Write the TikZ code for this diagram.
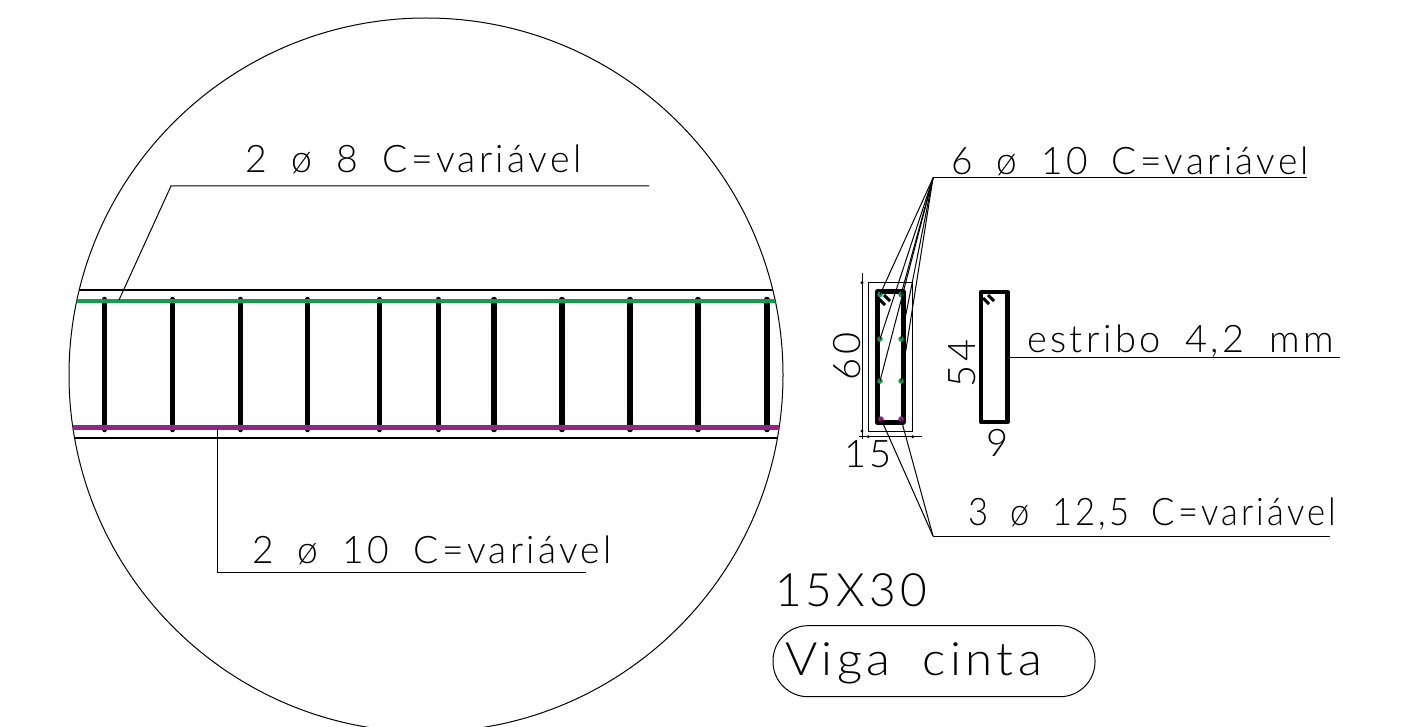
\documentclass[tikz,border=0pt]{standalone}
\usepackage{fontspec}
\setmainfont{Lato}[UprightFont=* Light,LetterSpace=9,WordSpace=1.8]
\definecolor{rebargreen}{RGB}{22,155,78}
\definecolor{rebarpurple}{RGB}{145,38,135}
\tikzset{
  thinline/.style={draw=black,line width=1pt},
  beamline/.style={draw=black,line width=1.2pt},
  stirrup/.style={draw=black,line width=5.5pt,line cap=round},
  tie/.style={draw=black,line width=4.5pt,line join=round},
  hook/.style={draw=black,line width=3pt},
  greenbar/.style={draw=rebargreen,line width=4pt},
  purplebar/.style={draw=rebarpurple,line width=4.5pt},
  label/.style={anchor=base west,inner sep=0pt,outer sep=0pt,font=\fontsize{38}{38}\selectfont},
  biglabel/.style={anchor=base west,inner sep=0pt,outer sep=0pt,font=\fontsize{46}{46}\selectfont},
  gdot/.style={circle,fill=rebargreen,inner sep=0pt,minimum size=5.5pt},
  pdot/.style={circle,fill=rebarpurple,inner sep=0pt,minimum size=5.5pt},
  kdot/.style={circle,fill=black,inner sep=0pt,minimum size=3.2pt},
}
\begin{document}
\begin{tikzpicture}[x=1pt,y=-1pt]
\useasboundingbox (0,0) rectangle (1421,727);
% detail circle
\begin{scope}
\clip (0,0) rectangle (1421,727);
\draw[thinline] (426,375) circle (357);
\end{scope}
\begin{scope}
\clip (426,375) circle (357);
\draw[beamline] (0,290) -- (1000,290);
\draw[beamline] (0,438) -- (1000,438);
\foreach \x in {104.5,172.5,240.5,307.5,379.5,438.5,494,562,630,698,767}
  \draw[stirrup] (\x,299.5) -- (\x,429.5);
\draw[greenbar] (0,300.5) -- (1000,300.5);
\draw[purplebar] (0,427.5) -- (1000,427.5);
\end{scope}
% left leaders
\coordinate (topbar) at (119,300);
\coordinate (topbend) at (171,186);
\coordinate (topend) at (649,186);
\coordinate (botbar) at (217,428);
\coordinate (botbend) at (217,572);
\coordinate (botend) at (586,572);
\draw[thinline] (topbar) -- (topbend) -- (topend);
\draw[thinline] (botbar) -- (botbend) -- (botend);
\node[label] (t1) at (245,172.5) {\scalebox{0.985}[1]{2 ø 8 C=variável}};
\node[label] (t2) at (252,563.5) {\scalebox{0.98}[1]{2 ø 10 C=variável}};
% section
\draw[thinline] (868.3,282.7) rectangle (912.7,431);
\draw[tie] (877.3,291.7) rectangle (903.3,422.3);
\draw[hook] (879,299) -- (885,305);
\draw[hook] (884,295) -- (890,301);
\node[gdot] (g1) at (880,294.5) {};
\node[gdot] (g2) at (901,294.5) {};
\node[gdot] (g3) at (880,339) {};
\node[gdot] (g4) at (901,339) {};
\node[gdot] (g5) at (880,381) {};
\node[gdot] (g6) at (901,381) {};
\node[pdot] (p1) at (881,419) {};
\node[pdot] (p2) at (901,419) {};
\coordinate (apexa) at (933,178);
\coordinate (enda) at (1307,178);
\coordinate (apexb) at (933,536);
\coordinate (endb) at (1330,536);
\draw[thinline] (enda) -- (apexa);
\draw[thinline] (endb) -- (apexb);
\foreach \n in {g1,g2,g3,g4,g5,g6} \draw[thinline] (apexa) -- (\n.center);
\foreach \n in {p1,p2} \draw[thinline] (apexb) -- (\n.center);
% dimensions
\coordinate (dva) at (862,273);
\coordinate (dvb) at (862,439);
\coordinate (dha) at (859,436.7);
\coordinate (dhb) at (922,436.7);
\draw[thinline] (dva) -- (dvb);
\draw[thinline] (dha) -- (dhb);
\node[kdot] (k1) at (862,282.7) {};
\node[kdot] (k2) at (862,431) {};
\node[kdot] (k3) at (868.3,436.7) {};
\node[kdot] (k4) at (912.7,436.7) {};
\node[label,rotate=90] (n60) at (860,380) {60};
\node[label] (n15) at (844,467) {15};
% stirrup detail
\draw[tie] (981,292) rectangle (1007.7,422);
\draw[hook] (983,298) -- (989,304);
\draw[hook] (988,295) -- (994,301);
\node[label,rotate=90] (n54) at (975,387) {54};
\node[label] (n9) at (986,456) {9};
\coordinate (ela) at (1007.7,357);
\coordinate (elb) at (1340,357);
\draw[thinline] (ela) -- (elb);
\node[label] (t3) at (951,174.5) {\scalebox{0.975}[1]{6 ø 10 C=variável}};
\node[label] (t4) at (1027,352) {estribo 4,2 mm};
\node[label] (t5) at (968,525.5) {\scalebox{0.91}[1]{3 ø 12,5 C=variável}};
% title
\node[biglabel] (title) at (775,606) {15X30};
\node[biglabel] (name) at (785,675) {\scalebox{1.07}[1]{Viga cinta}};
\draw[thinline,rounded corners=35pt] (773,625.7) rectangle (1095,696.7);
\end{tikzpicture}
\end{document}
